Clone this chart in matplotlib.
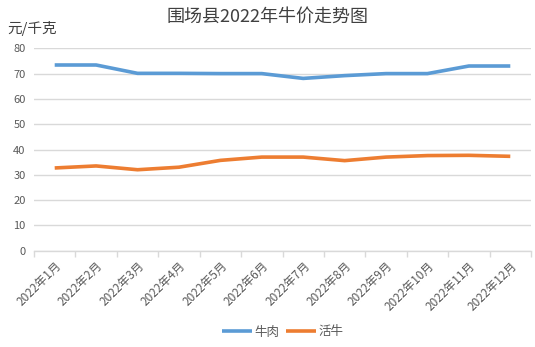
import numpy as np
import matplotlib
matplotlib.use('Agg')
import matplotlib.pyplot as plt

plt.rcParams['font.family'] = ['Noto Sans CJK SC', 'DejaVu Sans']

months = ['2022年1月', '2022年2月', '2022年3月', '2022年4月', '2022年5月', '2022年6月',
          '2022年7月', '2022年8月', '2022年9月', '2022年10月', '2022年11月', '2022年12月']
beef = [73.4, 73.4, 70.1, 70.1, 70.0, 70.0, 68.1, 69.2, 70.0, 70.0, 73.0, 73.0]
cattle = [32.7, 33.5, 32.0, 33.0, 35.7, 37.0, 37.0, 35.6, 37.0, 37.6, 37.7, 37.3]

BLUE = '#5B9BD5'
ORANGE = '#ED7D31'
GRID = '#D9D9D9'
TXT = '#595959'

fig = plt.figure(figsize=(5.35, 3.47), dpi=100)
ax = fig.add_axes([34/535, 1-250.7/347, (531-34)/535, (250.7-48.3)/347])

x = np.arange(len(months))
ax.plot(x, beef, color=BLUE, lw=2.6, solid_capstyle='butt', label='牛肉')
ax.plot(x, cattle, color=ORANGE, lw=2.6, solid_capstyle='butt', label='活牛')

ax.set_xlim(-0.5, len(months) - 0.5)
ax.set_ylim(0, 80)
ax.set_yticks(range(0, 81, 10))
ax.yaxis.grid(True, color=GRID, lw=1)
ax.set_axisbelow(True)
ax.tick_params(axis='y', length=0, pad=6, labelsize=8, labelcolor=TXT)

# category boundary tick marks, labels at category centres
ax.set_xticks(x)
ax.set_xticklabels(months, rotation=45, ha='right', rotation_mode='anchor',
                   fontsize=8.5, color=TXT)
ax.set_xticks(np.arange(-0.5, len(months)), minor=True)
ax.tick_params(axis='x', which='major', length=0, pad=6)
ax.tick_params(axis='x', which='minor', length=4, color=GRID, width=1)

for side in ['left', 'right', 'top']:
    ax.spines[side].set_visible(False)
ax.spines['bottom'].set_color(GRID)
ax.spines['bottom'].set_linewidth(1)

fig.text(0.5, 1-17/347, '围场县2022年牛价走势图', ha='center', va='center',
         fontsize=13, color='#404040')
fig.text(7/535, 1-28/347, '元/千克', ha='left', va='center', fontsize=10.5, color='#404040')

ax.legend(loc='center', bbox_to_anchor=(0.5, -(332-250.7)/(250.7-48.3)), ncol=2,
          frameon=False, fontsize=9, handlelength=2.4, handletextpad=0.2,
          columnspacing=0.5, labelcolor=TXT)

fig.savefig('out.png', dpi=100)
